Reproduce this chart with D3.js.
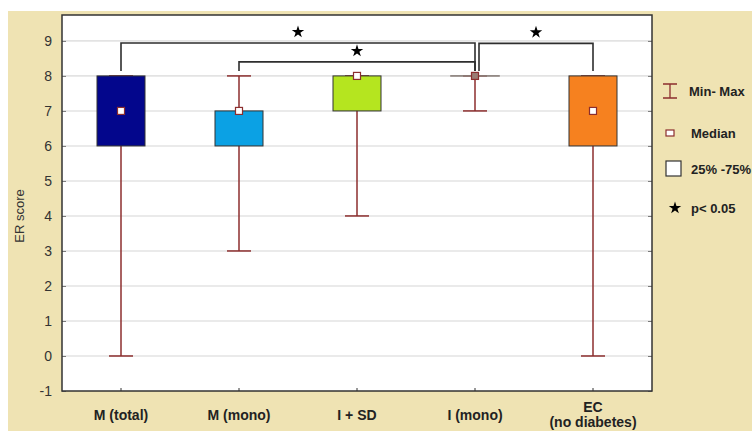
<!DOCTYPE html>
<html>
<head>
<meta charset="utf-8">
<script src="https://cdn.jsdelivr.net/npm/d3@7"></script>
<style>
body { margin: 0; background: #fff; }
svg text { font-family: Arial, "Liberation Sans", sans-serif; }
</style>
</head>
<body>
<div id="chart"></div>
<script>
// data
const categories = ['M (total)', 'M (mono)', 'I + SD', 'I (mono)', 'EC|(no diabetes)']
const mins = [0, 3, 4, 7, 0]
const q1s = [6, 6, 7, 8, 6]
const medians = [7, 7, 8, 8, 7]
const q3s = [8, 7, 8, 8, 8]
const maxs = [8, 8, 8, 8, 8]
const boxColors = ['#03068c', '#0ba1e4', '#b5e51f', '#8a7f7a', '#f6811f']
const yTicks = [-1, 0, 1, 2, 3, 4, 5, 6, 7, 8, 9]
// significance pairs (category indexes) and bracket heights in score units
const bracketFrom = [0, 1, 3]
const bracketTo = [3, 3, 4]
const bracketLevel = [8.94, 8.4, 8.93]
const legendLabels = ['Min- Max', 'Median', '25% -75%', 'p< 0.05']

const width = 752
const height = 431
const margin = {top: 15, bottom: 40, left: 62}
const plotRight = 652
const whiskerColor = '#8c2e2e'

const svg = d3.select('#chart')
    .append('svg')
    .attr('width', width)
    .attr('height', height)

// beige panel
svg.append('rect')
    .attr('x', 8).attr('y', 11)
    .attr('width', width - 8).attr('height', height - 11)
    .attr('fill', '#efe3b3')

const x = d3.scaleBand()
    .domain(d3.range(categories.length))
    .range([margin.left, plotRight])
    .padding(0)

const y = d3.scaleLinear()
    .domain([-1, 9.74])
    .range([height - margin.bottom, margin.top])

const cx = i => x(i) + x.bandwidth() / 2

svg.append('rect')
    .attr('x', margin.left).attr('y', margin.top)
    .attr('width', plotRight - margin.left).attr('height', y(-1) - margin.top)
    .attr('fill', '#fff')

// grid
svg.append('g')
    .selectAll('line')
    .data(yTicks.filter(t => t > -1))
    .enter()
    .append('line')
    .attr('x1', margin.left).attr('x2', plotRight)
    .attr('y1', d => y(d)).attr('y2', d => y(d))
    .attr('stroke', '#e3e3e3')
    .attr('stroke-width', 1.6)

// left axis
const yAxis = svg.append('g')
    .attr('transform', `translate(${margin.left},0)`)
    .call(d3.axisLeft(y).tickValues(yTicks).tickSize(-4).tickPadding(10).tickFormat(d => String(d)))
yAxis.select('.domain').remove()
yAxis.selectAll('line').attr('stroke', '#777')
yAxis.selectAll('text')
    .attr('font-size', 14)
    .attr('fill', '#333')

// right ticks
const yAxisR = svg.append('g')
    .attr('transform', `translate(${plotRight},0)`)
    .call(d3.axisRight(y).tickValues(yTicks).tickSize(-4).tickFormat(''))
yAxisR.select('.domain').remove()
yAxisR.selectAll('line').attr('stroke', '#777')

// bottom axis
const xAxis = svg.append('g')
    .attr('transform', `translate(0,${y(-1)})`)
    .call(d3.axisBottom(x).tickSize(-3).tickFormat(''))
xAxis.select('.domain').remove()
xAxis.selectAll('line').attr('stroke', '#333')

// frame
svg.append('rect')
    .attr('x', margin.left).attr('y', margin.top)
    .attr('width', plotRight - margin.left).attr('height', y(-1) - margin.top)
    .attr('fill', 'none')
    .attr('stroke', '#333')
    .attr('stroke-width', 1.5)

// category labels
svg.append('g')
    .selectAll('text')
    .data(categories)
    .enter()
    .append('text')
    .attr('x', (d, i) => cx(i))
    .attr('y', d => d.includes('|') ? 412 : 420)
    .attr('text-anchor', 'middle')
    .attr('font-size', 14)
    .attr('font-weight', 'bold')
    .attr('fill', '#222')
    .each(function (d) {
        const parts = d.split('|')
        d3.select(this).selectAll('tspan')
            .data(parts)
            .enter()
            .append('tspan')
            .attr('x', d3.select(this).attr('x'))
            .attr('dy', (p, k) => k === 0 ? 0 : 15)
            .text(p => p)
    })

// y label
svg.append('text')
    .attr('transform', 'translate(24,216) rotate(-90)')
    .attr('text-anchor', 'middle')
    .attr('font-size', 13)
    .attr('fill', '#333')
    .text('ER score')

const idx = d3.range(categories.length)
const boxW = 48
const capW = 24

// whiskers
const wh = svg.append('g').attr('stroke', whiskerColor).attr('stroke-width', 1.5)
idx.forEach(i => {
    wh.append('line')
        .attr('x1', cx(i)).attr('x2', cx(i))
        .attr('y1', y(mins[i])).attr('y2', y(maxs[i]))
    wh.append('line')
        .attr('x1', cx(i) - capW / 2).attr('x2', cx(i) + capW / 2)
        .attr('y1', y(mins[i])).attr('y2', y(mins[i]))
    wh.append('line')
        .attr('x1', cx(i) - capW / 2).attr('x2', cx(i) + capW / 2)
        .attr('y1', y(maxs[i])).attr('y2', y(maxs[i]))
})

// boxes
svg.append('g')
    .selectAll('rect')
    .data(idx)
    .enter()
    .append('rect')
    .attr('x', i => cx(i) - boxW / 2)
    .attr('y', i => y(q3s[i]))
    .attr('width', boxW)
    .attr('height', i => Math.max(y(q1s[i]) - y(q3s[i]), 0.01))
    .attr('fill', i => boxColors[i])
    .attr('stroke', i => q1s[i] === q3s[i] ? boxColors[i] : '#333')
    .attr('stroke-width', i => q1s[i] === q3s[i] ? 1.6 : 1)

// medians
svg.append('g')
    .selectAll('rect')
    .data(idx)
    .enter()
    .append('rect')
    .attr('x', i => cx(i) - 3.5)
    .attr('y', i => y(medians[i]) - 3.5)
    .attr('width', 7).attr('height', 7)
    .attr('fill', i => q1s[i] === q3s[i] && mins[i] === 7 ? '#9a7c74' : '#fff')
    .attr('stroke', whiskerColor)
    .attr('stroke-width', 1.2)

// significance brackets
const star = d3.symbol().type(d3.symbolStar).size(48)
const legTop = y(8) - 5
bracketFrom.forEach((f, k) => {
    const t = bracketTo[k]
    const x1 = cx(f) + (bracketTo.includes(f) ? 4 : 0)
    const x2 = cx(t)
    const ly = y(bracketLevel[k])
    svg.append('path')
        .attr('d', `M${x1},${legTop}V${ly}H${x2}V${legTop}`)
        .attr('fill', 'none')
        .attr('stroke', '#2e2e2e')
        .attr('stroke-width', 1.6)
    svg.append('path')
        .attr('d', star)
        .attr('transform', `translate(${(x1 + x2) / 2},${ly - 11})`)
        .attr('fill', '#000')
})

// legend
const lg = svg.append('g')
const lx = 670
const ly = [91, 133, 169, 208]
lg.append('path')
    .attr('d', `M${lx - 7},${ly[0] - 7}H${lx + 7}M${lx},${ly[0] - 7}V${ly[0] + 7}M${lx - 7},${ly[0] + 7}H${lx + 7}`)
    .attr('stroke', whiskerColor).attr('stroke-width', 1.3).attr('fill', 'none')
lg.append('rect')
    .attr('x', lx - 4).attr('y', ly[1] - 3)
    .attr('width', 8).attr('height', 6)
    .attr('fill', '#fff').attr('stroke', whiskerColor).attr('stroke-width', 1.2)
lg.append('rect')
    .attr('x', lx - 4).attr('y', ly[2] - 8)
    .attr('width', 15).attr('height', 15)
    .attr('fill', '#fff').attr('stroke', '#333').attr('stroke-width', 1.2)
lg.append('path')
    .attr('d', star)
    .attr('transform', `translate(${lx + 5},${ly[3]})`)
    .attr('fill', '#000')
lg.selectAll('text')
    .data(legendLabels)
    .enter()
    .append('text')
    .attr('x', (d, i) => i === 0 ? 689 : 691)
    .attr('y', (d, i) => ly[i] + 5)
    .attr('font-size', 13)
    .attr('font-weight', 'bold')
    .attr('fill', '#222')
    .text(d => d)
</script>
</body>
</html>
